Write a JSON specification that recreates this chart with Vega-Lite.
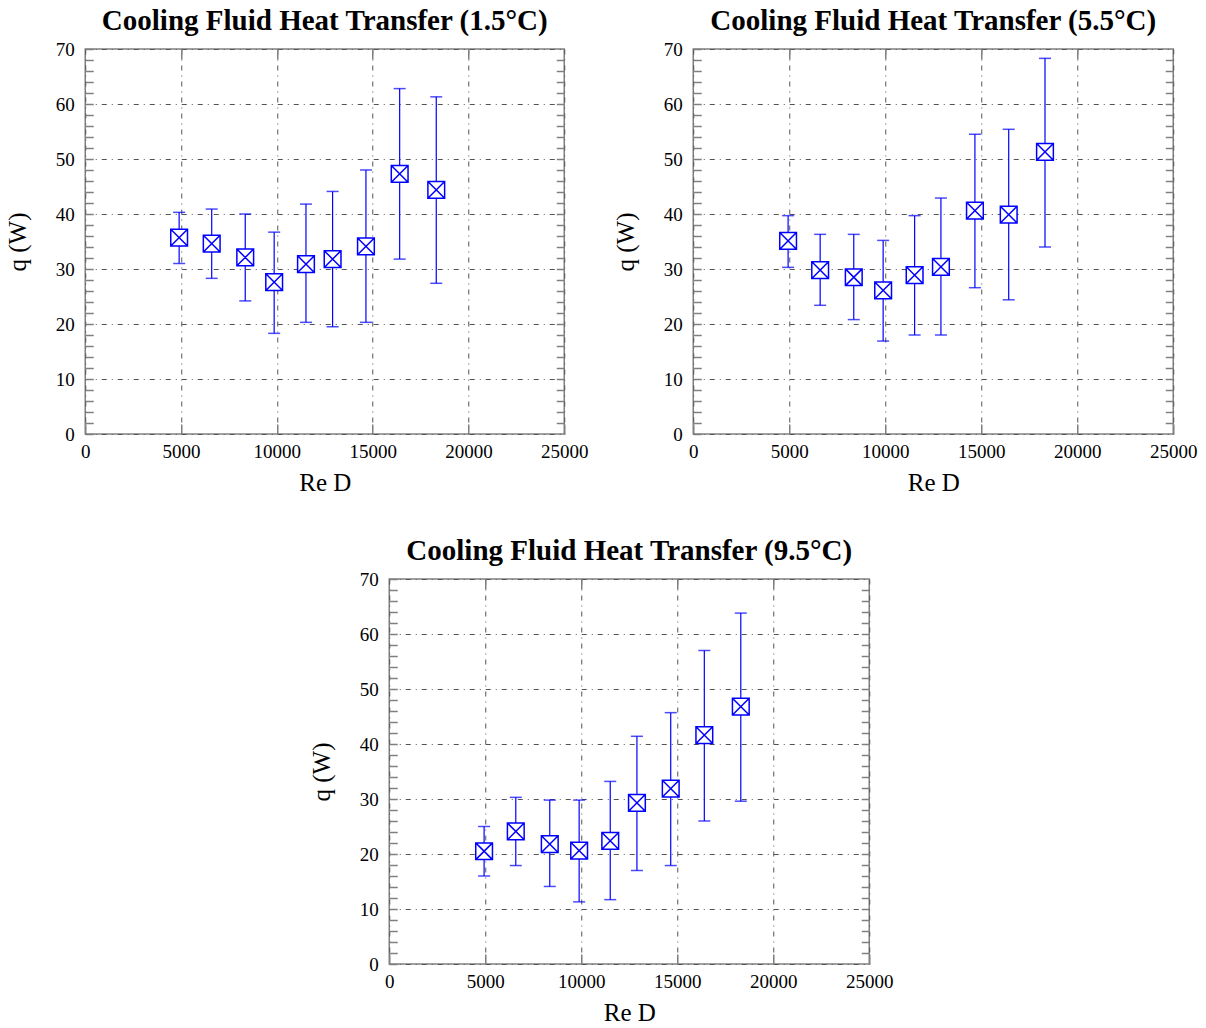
{
  "$schema": "https://vega.github.io/schema/vega-lite/v6.json",
  "padding": {"left": 4, "top": 6, "right": 5, "bottom": 5},
  "background": "white",
  "datasets": {
    "p1": [
      {"re": 4900, "q": 35.7, "lo": 31.0, "hi": 40.3},
      {"re": 6600, "q": 34.6, "lo": 28.3, "hi": 40.9},
      {"re": 8350, "q": 32.1, "lo": 24.2, "hi": 40.0},
      {"re": 9860, "q": 27.6, "lo": 18.3, "hi": 36.7},
      {"re": 11520, "q": 30.9, "lo": 20.3, "hi": 41.8},
      {"re": 12910, "q": 31.8, "lo": 19.5, "hi": 44.1},
      {"re": 14650, "q": 34.1, "lo": 20.3, "hi": 48.0},
      {"re": 16410, "q": 47.3, "lo": 31.8, "hi": 62.8},
      {"re": 18320, "q": 44.4, "lo": 27.4, "hi": 61.3}
    ],
    "p2": [
      {"re": 4940, "q": 35.1, "lo": 30.3, "hi": 39.7},
      {"re": 6610, "q": 29.8, "lo": 23.4, "hi": 36.3},
      {"re": 8360, "q": 28.5, "lo": 20.8, "hi": 36.3},
      {"re": 9890, "q": 26.1, "lo": 16.9, "hi": 35.2},
      {"re": 11530, "q": 28.9, "lo": 18.0, "hi": 39.7},
      {"re": 12900, "q": 30.4, "lo": 18.0, "hi": 42.9},
      {"re": 14670, "q": 40.6, "lo": 26.6, "hi": 54.5},
      {"re": 16430, "q": 39.9, "lo": 24.4, "hi": 55.4},
      {"re": 18320, "q": 51.3, "lo": 34.0, "hi": 68.3}
    ],
    "p3": [
      {"re": 4940, "q": 20.5, "lo": 16.0, "hi": 25.0},
      {"re": 6590, "q": 24.1, "lo": 17.9, "hi": 30.3},
      {"re": 8360, "q": 21.8, "lo": 14.1, "hi": 29.8},
      {"re": 9890, "q": 20.6, "lo": 11.3, "hi": 29.8},
      {"re": 11510, "q": 22.4, "lo": 11.7, "hi": 33.2},
      {"re": 12900, "q": 29.3, "lo": 17.0, "hi": 41.4},
      {"re": 14660, "q": 31.9, "lo": 17.9, "hi": 45.7},
      {"re": 16410, "q": 41.6, "lo": 26.0, "hi": 57.0},
      {"re": 18310, "q": 46.8, "lo": 29.6, "hi": 63.8}
    ]
  },
  "config": {
    "view": {"stroke": "#808080", "strokeWidth": 1.5},
    "font": "Liberation Serif",
    "title": {"font": "Liberation Serif", "fontSize": 29, "fontWeight": "bold", "color": "black", "offset": 4},
    "axis": {
      "labelFont": "Liberation Serif", "labelFontSize": 19, "labelColor": "black", "format": "d",
      "titleFont": "Liberation Serif", "titleFontSize": 25, "titleFontWeight": "normal", "titleColor": "black",
      "domain": false, "tickColor": "#808080", "tickWidth": 1.5,
      "gridColor": "#555555", "gridWidth": 1, "gridDash": [5, 5, 1, 5]
    }
  },
  "vconcat": [
    {
      "hconcat": [
        {
          "title": "Cooling Fluid Heat Transfer (1.5°C)",
          "width": 479, "height": 385,
          "data": {"name": "p1"},
          "layer": [
            {
              "mark": {"type": "errorbar", "color": "blue", "thickness": 1.2, "ticks": {"size": 12, "thickness": 1.5, "color": "blue"}},
              "encoding": {
                "x": {"field": "re", "type": "quantitative", "scale": {"domain": [0, 25000]}, "axis": {"title": "Re D", "values": [0, 5000, 10000, 15000, 20000, 25000], "tickSize": -10, "labelPadding": 18, "labelFlush": false, "grid": true, "titlePadding": 9}},
                "y": {"field": "lo", "type": "quantitative", "scale": {"domain": [0, 70]}, "axis": {"title": "q (W)", "values": [0,2,4,6,8,10,12,14,16,18,20,22,24,26,28,30,32,34,36,38,40,42,44,46,48,50,52,54,56,58,60,62,64,66,68,70], "labelExpr": "datum.value % 10 === 0 ? datum.label : ''", "tickSize": -8, "labelPadding": 19, "grid": true, "gridOpacity": {"condition": {"test": "datum.value % 10 !== 0", "value": 0}, "value": 1}, "titlePadding": 25}},
                "y2": {"field": "hi"}
              }
            },
            {
              "mark": {"type": "point", "shape": "M-1,-1L1,-1L1,1L-1,1Z M-1,-1L1,1 M1,-1L-1,1", "filled": true, "fill": "white", "fillOpacity": 1, "stroke": "blue", "strokeWidth": 1.5, "size": 280, "opacity": 1},
              "encoding": {
                "x": {"field": "re", "type": "quantitative", "scale": {"domain": [0, 25000]}, "axis": {"orient": "top", "title": null, "labels": false, "values": [5000, 10000, 15000, 20000], "tickSize": -10, "grid": false}},
                "y": {"field": "q", "type": "quantitative", "scale": {"domain": [0, 70]}, "axis": {"orient": "right", "title": null, "labels": false, "values": [2,4,6,8,10,12,14,16,18,20,22,24,26,28,30,32,34,36,38,40,42,44,46,48,50,52,54,56,58,60,62,64,66,68], "tickSize": -8, "grid": false}}
              }
            }
          ],
          "resolve": {"axis": {"x": "independent", "y": "independent"}}
        },
        {
          "title": "Cooling Fluid Heat Transfer (5.5°C)",
          "width": 480, "height": 385,
          "data": {"name": "p2"},
          "layer": [
            {
              "mark": {"type": "errorbar", "color": "blue", "thickness": 1.2, "ticks": {"size": 12, "thickness": 1.5, "color": "blue"}},
              "encoding": {
                "x": {"field": "re", "type": "quantitative", "scale": {"domain": [0, 25000]}, "axis": {"title": "Re D", "values": [0, 5000, 10000, 15000, 20000, 25000], "tickSize": -10, "labelPadding": 18, "labelFlush": false, "grid": true, "titlePadding": 9}},
                "y": {"field": "lo", "type": "quantitative", "scale": {"domain": [0, 70]}, "axis": {"title": "q (W)", "values": [0,2,4,6,8,10,12,14,16,18,20,22,24,26,28,30,32,34,36,38,40,42,44,46,48,50,52,54,56,58,60,62,64,66,68,70], "labelExpr": "datum.value % 10 === 0 ? datum.label : ''", "tickSize": -8, "labelPadding": 19, "grid": true, "gridOpacity": {"condition": {"test": "datum.value % 10 !== 0", "value": 0}, "value": 1}, "titlePadding": 25}},
                "y2": {"field": "hi"}
              }
            },
            {
              "mark": {"type": "point", "shape": "M-1,-1L1,-1L1,1L-1,1Z M-1,-1L1,1 M1,-1L-1,1", "filled": true, "fill": "white", "fillOpacity": 1, "stroke": "blue", "strokeWidth": 1.5, "size": 280, "opacity": 1},
              "encoding": {
                "x": {"field": "re", "type": "quantitative", "scale": {"domain": [0, 25000]}, "axis": {"orient": "top", "title": null, "labels": false, "values": [5000, 10000, 15000, 20000], "tickSize": -10, "grid": false}},
                "y": {"field": "q", "type": "quantitative", "scale": {"domain": [0, 70]}, "axis": {"orient": "right", "title": null, "labels": false, "values": [2,4,6,8,10,12,14,16,18,20,22,24,26,28,30,32,34,36,38,40,42,44,46,48,50,52,54,56,58,60,62,64,66,68], "tickSize": -8, "grid": false}}
              }
            }
          ],
          "resolve": {"axis": {"x": "independent", "y": "independent"}}
        }
      ],
      "spacing": 23
    },
    {
      "title": "Cooling Fluid Heat Transfer (9.5°C)",
      "width": 480, "height": 385,
      "data": {"name": "p3"},
      "layer": [
        {
          "mark": {"type": "errorbar", "color": "blue", "thickness": 1.2, "ticks": {"size": 12, "thickness": 1.5, "color": "blue"}},
          "encoding": {
            "x": {"field": "re", "type": "quantitative", "scale": {"domain": [0, 25000]}, "axis": {"title": "Re D", "values": [0, 5000, 10000, 15000, 20000, 25000], "tickSize": -10, "labelPadding": 18, "labelFlush": false, "grid": true, "titlePadding": 9}},
            "y": {"field": "lo", "type": "quantitative", "scale": {"domain": [0, 70]}, "axis": {"title": "q (W)", "values": [0,2,4,6,8,10,12,14,16,18,20,22,24,26,28,30,32,34,36,38,40,42,44,46,48,50,52,54,56,58,60,62,64,66,68,70], "labelExpr": "datum.value % 10 === 0 ? datum.label : ''", "tickSize": -8, "labelPadding": 19, "grid": true, "gridOpacity": {"condition": {"test": "datum.value % 10 !== 0", "value": 0}, "value": 1}, "titlePadding": 25}},
            "y2": {"field": "hi"}
          }
        },
        {
          "mark": {"type": "point", "shape": "M-1,-1L1,-1L1,1L-1,1Z M-1,-1L1,1 M1,-1L-1,1", "filled": true, "fill": "white", "fillOpacity": 1, "stroke": "blue", "strokeWidth": 1.5, "size": 280, "opacity": 1},
          "encoding": {
            "x": {"field": "re", "type": "quantitative", "scale": {"domain": [0, 25000]}, "axis": {"orient": "top", "title": null, "labels": false, "values": [5000, 10000, 15000, 20000], "tickSize": -10, "grid": false}},
            "y": {"field": "q", "type": "quantitative", "scale": {"domain": [0, 70]}, "axis": {"orient": "right", "title": null, "labels": false, "values": [2,4,6,8,10,12,14,16,18,20,22,24,26,28,30,32,34,36,38,40,42,44,46,48,50,52,54,56,58,60,62,64,66,68], "tickSize": -8, "grid": false}}
          }
        }
      ],
      "resolve": {"axis": {"x": "independent", "y": "independent"}}
    }
  ],
  "spacing": 40,
  "center": true
}
